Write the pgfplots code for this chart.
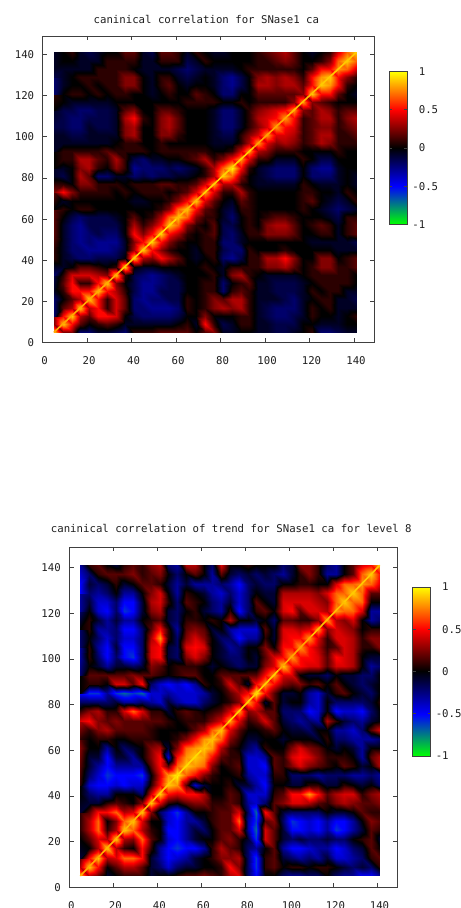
\documentclass[border=0pt]{standalone}
\usepackage{pgfplots}
\pgfplotsset{compat=1.18}
\usepackage{fontspec}
\setmainfont{DejaVu Sans Mono}
\definecolor{fr}{gray}{0.25}
\definecolor{tx}{gray}{0.12}
\pgfplotsset{
  colormap={gp}{rgb=(0,1,0) rgb=(0,0,1) rgb=(0,0,0) rgb=(1,0,0) rgb=(1,1,0)},
  heat/.style={scale only axis,xmin=0,xmax=149,ymin=0,ymax=149,
    axis line style={color=fr,line width=0.8pt},
    xtick={20,40,...,140},ytick={20,40,...,140},
    extra x ticks={0},extra y ticks={0},
    extra tick style={major tick length=0pt},
    tick style={color=fr,line width=0.7pt},major tick length=4.5bp,tick align=inside,
    ticklabel style={font=\fontsize{10.7bp}{12bp}\selectfont,text=tx},
    xticklabel style={xshift=2bp,yshift=-10.5bp},
    yticklabel style={xshift=-5bp},
    /pgf/number format/assume math mode=true,
    point meta min=-1,point meta max=1,
    title style={font=\fontsize{10.7bp}{12bp}\selectfont,text=tx,at={(0.5,1)},anchor=south,xshift=-2bp},
    clip=true,axis on top},
  cbar/.style={scale only axis,xmin=0,xmax=1,ymin=-1,ymax=1,xtick=\empty,
    ytick={-1,-0.5,0,0.5,1},yticklabels={\llap{-}1,\llap{-}0.5,0,0.5,1},
    yticklabel pos=right,
    axis line style={color=fr,line width=0.8pt},
    tick style={color=fr,line width=0.7pt},major tick length=3bp,tick align=inside,
    yticklabel style={font=\fontsize{10.7bp}{12bp}\selectfont,text=tx,anchor=west,xshift=8bp},
    point meta min=-1,point meta max=1,axis on top},
  grid35/.style 2 args={surf,shader=interp,mesh/cols=35,mesh/ordering=x varies,
    point meta={\thisrowno{0}<0 ? #1*\thisrowno{0} : (\thisrowno{0}<7 ? #2*\thisrowno{0} : 0.1*\thisrowno{0})}}
}
\begin{document}
\begin{tikzpicture}[x=1bp,y=1bp]
\clip (0,0) rectangle (461,908);
\begin{axis}[heat,at={(42.7bp,565.3bp)},anchor=south west,width=331.3bp,height=306.7bp,
  title={caninical correlation for SNase1 ca},title style={yshift=3bp}]
\addplot[grid35={0.07}{0.085}] table[header=false,row sep=\\,x expr={mod(\coordindex,35)*4+5},y expr={floor(\coordindex/35)*4+5}]
{9\\3\\3\\-3\\-3\\-1\\-1\\-2\\-3\\1\\1\\1\\2\\2\\2\\2\\0\\2\\3\\-1\\-1\\0\\0\\-1\\-1\\-2\\-2\\-1\\0\\1\\-3\\-3\\-2\\-1\\-1\\
3\\9\\6\\2\\0\\1\\2\\1\\-1\\-1\\-1\\-1\\-1\\-1\\0\\1\\-1\\6\\1\\-2\\-1\\1\\1\\-1\\-1\\-2\\-2\\-2\\0\\0\\-1\\-1\\-1\\0\\0\\
3\\6\\9\\4\\2\\6\\6\\5\\0\\-2\\-3\\-3\\-3\\-3\\-2\\0\\0\\3\\0\\0\\0\\1\\1\\-1\\-2\\-3\\-3\\-2\\-1\\1\\0\\0\\-1\\0\\1\\
-3\\2\\4\\9\\4\\6\\1\\5\\2\\-3\\-3\\-4\\-4\\-4\\-3\\1\\0\\1\\3\\4\\3\\4\\1\\-1\\-2\\-3\\-3\\-3\\-1\\1\\0\\1\\-1\\-1\\-1\\
-3\\0\\2\\4\\9\\6\\1\\5\\2\\-3\\-4\\-3\\-3\\-2\\-2\\1\\0\\1\\3\\2\\4\\4\\1\\-1\\-1\\-1\\-2\\-3\\-1\\0\\1\\1\\-1\\-1\\-2\\
-1\\1\\6\\6\\6\\9\\6\\4\\1\\-2\\-4\\-4\\-2\\-2\\-2\\0\\0\\1\\1\\-3\\1\\2\\1\\-1\\-1\\-2\\-2\\-2\\-1\\1\\0\\1\\1\\-1\\-1\\
-1\\2\\6\\1\\1\\6\\9\\3\\0\\-2\\-4\\-4\\-3\\-2\\-2\\0\\0\\1\\1\\-3\\0\\1\\2\\-1\\-1\\-2\\-2\\-2\\-1\\0\\1\\1\\1\\1\\0\\
-2\\1\\5\\5\\5\\4\\3\\9\\1\\-2\\-3\\-4\\-3\\-2\\-1\\0\\0\\0\\1\\-1\\3\\4\\1\\0\\-1\\-1\\-1\\-1\\0\\1\\1\\1\\1\\1\\0\\
-3\\-1\\0\\2\\2\\1\\0\\1\\9\\0\\-1\\-1\\0\\0\\0\\0\\0\\1\\0\\-1\\1\\1\\1\\1\\3\\3\\4\\2\\0\\1\\3\\3\\1\\1\\2\\
1\\-1\\-2\\-3\\-3\\-2\\-2\\-2\\0\\9\\4\\3\\6\\4\\2\\0\\-1\\0\\1\\-3\\-4\\-2\\1\\1\\4\\4\\6\\3\\0\\0\\3\\3\\0\\1\\2\\
1\\-1\\-3\\-3\\-4\\-4\\-4\\-3\\-1\\4\\9\\6\\3\\1\\0\\0\\-1\\1\\1\\-2\\-3\\-3\\1\\0\\0\\0\\1\\0\\0\\0\\0\\0\\-1\\-1\\-1\\
1\\-1\\-3\\-4\\-3\\-4\\-4\\-4\\-1\\3\\6\\9\\6\\3\\1\\0\\0\\1\\1\\-3\\-3\\-1\\0\\0\\0\\0\\0\\0\\0\\-1\\-1\\-1\\-1\\-1\\-2\\
2\\-1\\-3\\-4\\-3\\-2\\-3\\-3\\0\\6\\3\\6\\9\\6\\4\\1\\0\\1\\2\\-2\\-3\\-1\\1\\1\\3\\3\\3\\2\\0\\0\\1\\1\\-1\\1\\2\\
2\\-1\\-3\\-4\\-2\\-2\\-2\\-2\\0\\4\\1\\3\\6\\9\\7\\3\\1\\0\\2\\-2\\-2\\0\\1\\0\\3\\4\\4\\2\\0\\1\\2\\1\\-1\\1\\2\\
2\\0\\-2\\-3\\-2\\-2\\-2\\-1\\0\\2\\0\\1\\4\\7\\9\\7\\3\\1\\1\\-1\\-3\\0\\1\\0\\1\\2\\2\\1\\0\\0\\0\\-1\\-2\\1\\1\\
2\\1\\0\\1\\1\\0\\0\\0\\0\\0\\0\\0\\1\\3\\7\\9\\6\\2\\1\\-1\\-2\\1\\1\\0\\0\\0\\0\\0\\1\\0\\-1\\-2\\-3\\-2\\-1\\
0\\-1\\0\\0\\0\\0\\0\\0\\0\\-1\\-1\\0\\0\\1\\3\\6\\9\\5\\2\\0\\-1\\2\\1\\0\\0\\0\\0\\0\\1\\2\\0\\-1\\-2\\-1\\1\\
2\\6\\3\\1\\1\\1\\1\\0\\1\\0\\1\\1\\1\\0\\1\\2\\5\\8\\5\\1\\1\\4\\1\\0\\0\\0\\0\\0\\1\\1\\0\\0\\-1\\1\\0\\
3\\1\\0\\3\\3\\1\\1\\1\\0\\1\\1\\1\\2\\2\\1\\1\\2\\5\\8\\4\\4\\1\\0\\-1\\-1\\-1\\-1\\-1\\1\\0\\-1\\-1\\-1\\0\\-1\\
-1\\-2\\0\\4\\2\\-3\\-3\\-1\\-1\\-3\\-2\\-3\\-2\\-2\\-1\\-1\\0\\1\\4\\9\\7\\3\\0\\-1\\-2\\-3\\-3\\-3\\0\\-3\\-3\\-3\\-1\\0\\-1\\
-1\\-1\\0\\3\\4\\1\\0\\3\\1\\-4\\-3\\-3\\-3\\-2\\-3\\-2\\-1\\1\\4\\7\\10\\6\\1\\-1\\-2\\-3\\-3\\-3\\0\\-3\\-4\\-4\\-1\\0\\0\\
0\\1\\1\\4\\4\\2\\1\\4\\1\\-2\\-3\\-1\\-1\\0\\0\\1\\2\\4\\1\\3\\6\\8\\5\\1\\1\\-1\\-1\\-1\\1\\0\\-2\\-2\\0\\0\\0\\
0\\1\\1\\1\\1\\1\\2\\1\\1\\1\\1\\0\\1\\1\\1\\1\\1\\1\\0\\0\\1\\5\\8\\4\\3\\1\\1\\1\\0\\0\\0\\0\\1\\0\\0\\
-1\\-1\\-1\\-1\\-1\\-1\\-1\\0\\1\\1\\0\\0\\1\\0\\0\\0\\0\\0\\-1\\-1\\-1\\1\\4\\8\\5\\3\\4\\3\\1\\2\\4\\3\\1\\1\\1\\
-1\\-1\\-2\\-2\\-1\\-1\\-1\\-1\\3\\4\\0\\0\\3\\3\\1\\0\\0\\0\\-1\\-2\\-2\\1\\3\\5\\8\\5\\5\\4\\1\\2\\4\\4\\1\\1\\2\\
-2\\-2\\-3\\-3\\-1\\-2\\-2\\-1\\3\\4\\0\\0\\3\\4\\2\\0\\0\\0\\-1\\-3\\-3\\-1\\1\\3\\5\\8\\6\\5\\1\\2\\3\\3\\1\\2\\3\\
-2\\-2\\-3\\-3\\-2\\-2\\-2\\-1\\4\\6\\1\\0\\3\\4\\2\\0\\0\\0\\-1\\-3\\-3\\-1\\1\\4\\5\\6\\8\\6\\1\\2\\4\\4\\1\\3\\4\\
-1\\-2\\-2\\-3\\-3\\-2\\-2\\-1\\2\\3\\0\\0\\2\\2\\1\\0\\0\\0\\-1\\-3\\-3\\-1\\1\\3\\4\\5\\6\\8\\3\\2\\4\\3\\1\\2\\2\\
0\\0\\-1\\-1\\-1\\-1\\-1\\0\\0\\0\\0\\0\\0\\0\\0\\1\\1\\1\\1\\0\\0\\1\\0\\1\\1\\1\\1\\3\\8\\3\\2\\1\\0\\0\\0\\
1\\0\\1\\1\\0\\1\\0\\1\\1\\0\\0\\-1\\0\\1\\0\\0\\2\\1\\0\\-3\\-3\\0\\0\\2\\2\\2\\2\\2\\3\\9\\6\\6\\2\\0\\-1\\
-3\\-1\\0\\0\\1\\0\\1\\1\\3\\3\\0\\-1\\1\\2\\0\\-1\\0\\0\\-1\\-3\\-4\\-2\\0\\4\\4\\3\\4\\4\\2\\6\\9\\8\\6\\1\\0\\
-3\\-1\\0\\1\\1\\1\\1\\1\\3\\3\\0\\-1\\1\\1\\-1\\-2\\-1\\0\\-1\\-3\\-4\\-2\\0\\3\\4\\3\\4\\3\\1\\6\\8\\9\\6\\3\\1\\
-2\\-1\\-1\\-1\\-1\\1\\1\\1\\1\\0\\-1\\-1\\-1\\-1\\-2\\-3\\-2\\-1\\-1\\-1\\-1\\0\\1\\1\\1\\1\\1\\1\\0\\2\\6\\6\\8\\7\\5\\
-1\\0\\0\\-1\\-1\\-1\\1\\1\\1\\1\\-1\\-1\\1\\1\\1\\-2\\-1\\1\\0\\0\\0\\0\\0\\1\\1\\2\\3\\2\\0\\0\\1\\3\\7\\9\\7\\
-1\\0\\1\\-1\\-2\\-1\\0\\0\\2\\2\\-1\\-2\\2\\2\\1\\-1\\1\\0\\-1\\-1\\0\\0\\0\\1\\2\\3\\4\\2\\0\\-1\\0\\1\\5\\7\\9\\};
\addplot[mesh,line width=1.6pt,point meta=explicit] coordinates {(5,5)[.83] (15,15)[.83] (22,22)[.85] (35,35)[.83] (47,47)[.97] (60,60)[.9] (72,72)[.83] (84,84)[1] (95,95)[.82] (110,110)[.83] (125,125)[.92] (141,141)[.88]};
\end{axis}
\begin{axis}[cbar,at={(389bp,683.7bp)},anchor=south west,width=18.3bp,height=152.6bp]
\addplot[surf,shader=interp,mesh/cols=2,mesh/ordering=x varies,point meta=y] table[row sep=\\]{x y\\0 -1\\1 -1\\0 -0.5\\1 -0.5\\0 0\\1 0\\0 0.5\\1 0.5\\0 1\\1 1\\};
\end{axis}
\begin{axis}[heat,at={(69.3bp,20.7bp)},anchor=south west,width=328bp,height=340.3bp,
  title={caninical correlation of trend for SNase1 ca for level 8},title style={yshift=5bp}]
\addplot[grid35={0.1}{0.085}] table[header=false,row sep=\\,x expr={mod(\coordindex,35)*4+5},y expr={floor(\coordindex/35)*4+5}]
{9\\4\\2\\-1\\0\\1\\1\\1\\-1\\0\\0\\1\\2\\2\\3\\2\\1\\4\\5\\-2\\-5\\0\\0\\-2\\-3\\-3\\-2\\-2\\0\\-2\\-3\\-3\\-5\\-5\\-3\\
4\\9\\6\\0\\2\\4\\4\\2\\-1\\-2\\-4\\-2\\-1\\-1\\0\\0\\1\\6\\3\\-2\\-6\\1\\2\\0\\1\\1\\0\\1\\1\\0\\-1\\-2\\-1\\-2\\1\\
2\\6\\9\\4\\5\\7\\7\\6\\-1\\-3\\-5\\-4\\-3\\-1\\0\\1\\3\\3\\4\\-2\\-6\\1\\2\\-1\\-2\\-3\\-2\\-3\\-1\\-4\\-4\\-3\\-2\\1\\2\\
-1\\0\\4\\9\\4\\1\\0\\6\\1\\-3\\-5\\-6\\-5\\-5\\-3\\1\\4\\2\\1\\-2\\-3\\0\\2\\-3\\-5\\-5\\-4\\-3\\-3\\-5\\-4\\-2\\-1\\2\\0\\
0\\2\\5\\4\\9\\4\\3\\7\\2\\0\\-4\\-5\\-3\\-1\\0\\0\\2\\3\\1\\-1\\-6\\5\\2\\-1\\-2\\-1\\-2\\-2\\-1\\-2\\-2\\0\\1\\2\\-1\\
1\\4\\7\\1\\4\\9\\7\\4\\1\\0\\-5\\-5\\-3\\-1\\-2\\0\\2\\2\\5\\-3\\-7\\5\\2\\-1\\-5\\-5\\-4\\-5\\-3\\-6\\-5\\-3\\-1\\2\\1\\
1\\4\\7\\0\\3\\7\\9\\5\\0\\0\\-4\\-5\\-3\\-3\\-1\\1\\2\\2\\7\\-3\\-6\\2\\3\\-2\\-6\\-5\\-4\\-5\\-3\\-5\\-5\\-3\\0\\3\\2\\
1\\2\\6\\6\\7\\4\\5\\9\\3\\-2\\-4\\-6\\-3\\0\\0\\1\\2\\2\\5\\-2\\-7\\6\\2\\-1\\-2\\-2\\-2\\-2\\0\\-1\\-1\\0\\2\\1\\1\\
-1\\-1\\-1\\1\\2\\1\\0\\3\\9\\5\\1\\0\\2\\3\\3\\1\\1\\2\\1\\-3\\-4\\-2\\2\\3\\5\\5\\4\\2\\1\\3\\4\\3\\2\\2\\3\\
0\\-2\\-3\\-3\\0\\0\\0\\-2\\5\\9\\6\\5\\6\\6\\4\\0\\0\\2\\1\\-4\\-4\\-4\\1\\2\\6\\6\\8\\6\\2\\4\\5\\5\\1\\3\\4\\
0\\-4\\-5\\-5\\-4\\-5\\-4\\-4\\1\\6\\9\\8\\2\\-4\\-1\\0\\0\\1\\-1\\-1\\-3\\-5\\0\\0\\-1\\-1\\1\\1\\-1\\-1\\1\\0\\-1\\0\\-2\\
1\\-2\\-4\\-6\\-5\\-5\\-5\\-6\\0\\5\\8\\10\\7\\6\\3\\1\\0\\0\\1\\-3\\-4\\-4\\1\\1\\-2\\-2\\-2\\-3\\-2\\-2\\-2\\-3\\-3\\-2\\-3\\
2\\-1\\-3\\-5\\-3\\-3\\-3\\-3\\2\\6\\2\\7\\9\\8\\7\\3\\0\\1\\2\\-4\\-4\\-5\\2\\1\\3\\5\\3\\2\\1\\0\\2\\1\\-1\\0\\4\\
2\\-1\\-1\\-5\\-1\\-1\\-3\\0\\3\\6\\-4\\6\\8\\9\\8\\6\\2\\1\\1\\-4\\-4\\-3\\2\\1\\5\\6\\5\\3\\1\\1\\1\\0\\-3\\2\\4\\
3\\0\\0\\-3\\0\\-2\\-1\\0\\3\\4\\-1\\3\\7\\8\\9\\8\\4\\1\\0\\-2\\-3\\1\\0\\0\\3\\5\\3\\2\\0\\-1\\0\\-1\\-3\\0\\0\\
2\\0\\1\\1\\0\\0\\1\\1\\1\\0\\0\\1\\3\\6\\8\\9\\7\\3\\1\\-1\\-1\\0\\0\\-1\\0\\0\\0\\-1\\1\\-2\\-2\\-3\\-3\\-3\\-2\\
1\\1\\3\\4\\2\\2\\2\\2\\1\\0\\0\\0\\0\\2\\4\\7\\9\\5\\2\\0\\0\\1\\2\\0\\-1\\-1\\-2\\0\\0\\-3\\-3\\-4\\-2\\2\\5\\
4\\6\\3\\2\\3\\2\\2\\2\\2\\2\\1\\0\\1\\1\\1\\3\\5\\8\\5\\1\\2\\5\\2\\-1\\-2\\-3\\-2\\-3\\4\\1\\-1\\-2\\-3\\-1\\0\\
5\\3\\4\\1\\1\\5\\7\\5\\1\\1\\-1\\1\\2\\1\\0\\1\\2\\5\\8\\3\\4\\2\\2\\-2\\-2\\-2\\-5\\-4\\0\\-5\\-4\\-4\\-5\\-2\\0\\
-2\\-2\\-2\\-2\\-1\\-3\\-3\\-2\\-3\\-4\\-1\\-3\\-4\\-4\\-2\\-1\\0\\1\\3\\8\\6\\-1\\2\\-1\\0\\0\\-3\\-4\\0\\-2\\-2\\-2\\-2\\-1\\1\\
-5\\-6\\-6\\-3\\-6\\-7\\-6\\-7\\-4\\-4\\-3\\-4\\-4\\-4\\-3\\-1\\0\\2\\4\\6\\10\\6\\2\\-1\\-1\\0\\-3\\-4\\-1\\1\\2\\0\\-1\\-2\\0\\
0\\1\\1\\0\\5\\5\\2\\6\\-2\\-4\\-5\\-4\\-5\\-3\\1\\0\\1\\5\\2\\-1\\6\\8\\6\\3\\2\\3\\1\\2\\0\\2\\0\\-1\\-2\\-1\\0\\
0\\2\\2\\2\\2\\2\\3\\2\\2\\1\\0\\1\\2\\2\\0\\0\\2\\2\\2\\2\\2\\6\\8\\5\\5\\0\\-1\\-1\\-2\\0\\-1\\-1\\-2\\-2\\0\\
-2\\0\\-1\\-3\\-1\\-1\\-2\\-1\\3\\2\\0\\1\\1\\1\\0\\-1\\0\\-1\\-2\\-1\\-1\\3\\5\\9\\6\\6\\5\\5\\2\\5\\5\\4\\0\\-3\\-2\\
-3\\1\\-2\\-5\\-2\\-5\\-6\\-2\\5\\6\\-1\\-2\\3\\5\\3\\0\\-1\\-2\\-2\\0\\-1\\2\\5\\6\\8\\6\\6\\5\\2\\6\\5\\4\\0\\-1\\-1\\
-3\\1\\-3\\-5\\-1\\-5\\-5\\-2\\5\\6\\-1\\-2\\5\\6\\5\\0\\-1\\-3\\-2\\0\\0\\3\\0\\6\\6\\8\\6\\4\\1\\2\\5\\4\\1\\1\\3\\
-2\\0\\-2\\-4\\-2\\-4\\-4\\-2\\4\\8\\1\\-2\\3\\5\\3\\0\\-2\\-2\\-5\\-3\\-3\\1\\-1\\5\\6\\6\\8\\5\\1\\5\\5\\4\\1\\3\\3\\
-2\\1\\-3\\-3\\-2\\-5\\-5\\-2\\2\\6\\1\\-3\\2\\3\\2\\-1\\0\\-3\\-4\\-4\\-4\\2\\-1\\5\\5\\4\\5\\8\\3\\5\\4\\3\\0\\1\\1\\
0\\1\\-1\\-3\\-1\\-3\\-3\\0\\1\\2\\-1\\-2\\1\\1\\0\\1\\0\\4\\0\\0\\-1\\0\\-2\\2\\2\\1\\1\\3\\8\\4\\3\\5\\0\\-3\\-2\\
-2\\0\\-4\\-5\\-2\\-6\\-5\\-1\\3\\4\\-1\\-2\\0\\1\\-1\\-2\\-3\\1\\-5\\-2\\1\\2\\0\\5\\6\\2\\5\\5\\4\\8\\7\\7\\5\\-3\\-3\\
-3\\-1\\-4\\-4\\-2\\-5\\-5\\-1\\4\\5\\1\\-2\\2\\1\\0\\-2\\-3\\-1\\-4\\-2\\2\\0\\-1\\5\\5\\5\\5\\4\\3\\7\\9\\7\\7\\0\\0\\
-3\\-2\\-3\\-2\\0\\-3\\-3\\0\\3\\5\\0\\-3\\1\\0\\-1\\-3\\-4\\-2\\-4\\-2\\0\\-1\\-1\\4\\4\\4\\4\\3\\5\\7\\7\\9\\7\\2\\2\\
-5\\-1\\-2\\-1\\1\\-1\\0\\2\\2\\1\\-1\\-3\\-1\\-3\\-3\\-3\\-2\\-3\\-5\\-2\\-1\\-2\\-2\\0\\0\\1\\1\\0\\0\\5\\7\\7\\8\\7\\5\\
-5\\-2\\1\\2\\2\\2\\3\\1\\2\\3\\0\\-2\\0\\2\\0\\-3\\2\\-1\\-2\\-1\\-2\\-1\\-2\\-3\\-1\\1\\3\\1\\-3\\-3\\0\\2\\7\\9\\6\\
-3\\1\\2\\0\\-1\\1\\2\\1\\3\\4\\-2\\-3\\4\\4\\0\\-2\\5\\0\\0\\1\\0\\0\\0\\-2\\-1\\3\\3\\1\\-2\\-3\\0\\2\\5\\6\\9\\};
\addplot[mesh,line width=1.6pt,point meta=explicit] coordinates {(5,5)[.83] (15,15)[.83] (27,27)[.88] (38,38)[.83] (47,47)[.97] (60,60)[.9] (72,72)[.83] (84,84)[1] (95,95)[.82] (110,110)[.83] (125,125)[.92] (141,141)[.88]};
\end{axis}
\begin{axis}[cbar,at={(412.7bp,152bp)},anchor=south west,width=18bp,height=169bp]
\addplot[surf,shader=interp,mesh/cols=2,mesh/ordering=x varies,point meta=y] table[row sep=\\]{x y\\0 -1\\1 -1\\0 -0.5\\1 -0.5\\0 0\\1 0\\0 0.5\\1 0.5\\0 1\\1 1\\};
\end{axis}
\end{tikzpicture}
\end{document}
